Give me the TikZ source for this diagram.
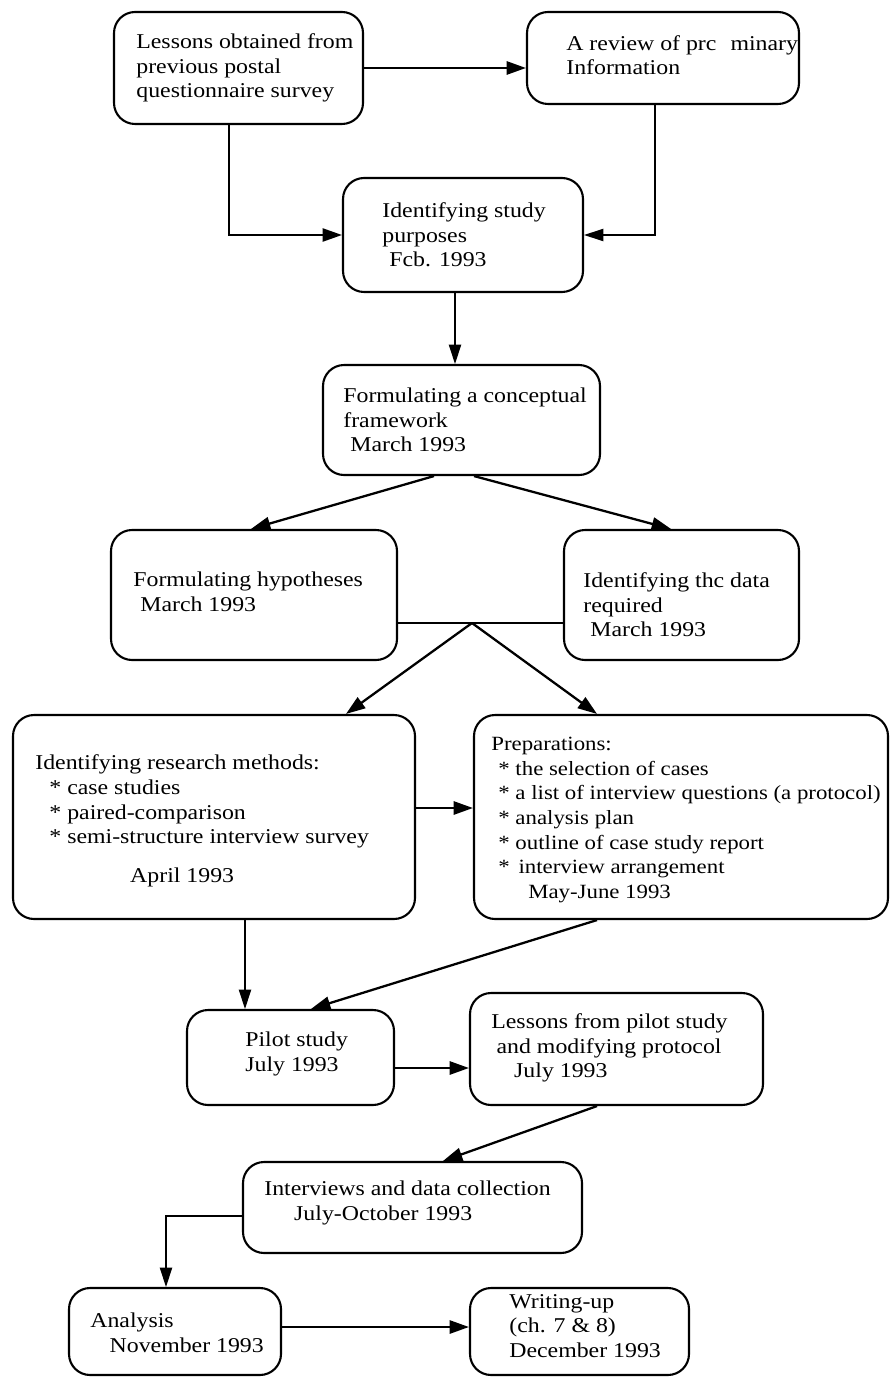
\documentclass[tikz,border=0pt]{standalone}
\usepackage{fontspec}
\setmainfont{Liberation Serif}[FakeStretch=1.13]
\usetikzlibrary{arrows.meta,fit}

\begin{document}
\begin{tikzpicture}[
                x=0.02cm, y=-0.02cm,
                roundbox/.style={
                    draw, rounded corners=12pt, line width=1.2pt, inner sep=0pt
                },
                boxtext/.style={
                    anchor=west, align=left, inner sep=0pt,
                    font=\fontsize{12}{14}\selectfont
                },
                thickarrow/.style={
                    line width=1.3pt, -{Triangle[length=11pt, width=7.5pt]}
                },
                thinarrow/.style={
                    line width=0.7pt, -{Triangle[length=11pt, width=7pt]}
                }
            ]
            \useasboundingbox (0, 0) rectangle (891, 1378);

            % boxes
            \node[roundbox, fit={(114, 12) (363, 124)}] (lessons) {};
            \node[roundbox, fit={(527, 12) (799, 104)}] (review) {};
            \node[roundbox, fit={(343, 178) (583, 292)}] (purposes) {};
            \node[roundbox, fit={(323, 365) (600, 475)}] (framework) {};
            \node[roundbox, fit={(111, 530) (397, 660)}] (hypotheses) {};
            \node[roundbox, fit={(564, 530) (799, 660)}] (data) {};
            \node[roundbox, fit={(13, 715) (415, 919)}] (methods) {};
            \node[roundbox, fit={(474, 715) (888, 919)}] (prep) {};
            \node[roundbox, fit={(187, 1010) (394, 1105)}] (pilot) {};
            \node[roundbox, fit={(470, 993) (763, 1105)}] (pilotlessons) {};
            \node[roundbox, fit={(243, 1162) (582, 1253)}] (interviews) {};
            \node[roundbox, fit={(69, 1288) (281, 1375)}] (analysis) {};
            \node[roundbox, fit={(470, 1288) (689, 1375)}] (writing) {};

            % texts
            \node[boxtext] (lessonsT) at (136, 68) {Lessons obtained from\\previous postal\\questionnaire survey};
            \node[boxtext] (reviewT) at (566, 55) {A review of prc\hspace{8pt}minary\\Information};
            \node[boxtext] (purposesT) at (382, 235) {Identifying study\\purposes\\\hspace{4pt}Fcb. 1993};
            \node[boxtext] (frameworkT) at (343, 420) {Formulating a conceptual\\framework\\\hspace{4pt}March 1993};
            \node[boxtext] (hypothesesT) at (133, 592) {Formulating hypotheses\\\hspace{4pt}March 1993};
            \node[boxtext] (dataT) at (583, 605) {Identifying thc data\\required\\\hspace{4pt}March 1993};
            \node[boxtext] (methodsT) at (35, 821) {Identifying research methods:\\
                \hspace{8pt}* case studies\\
                \hspace{8pt}* paired-comparison\\
                \hspace{8pt}* semi-structure interview survey\\[8pt]
                \hspace{54pt}April 1993};
            \node[boxtext, font=\fontsize{11.5}{14}\selectfont] (prepT) at (491, 820) {Preparations:\\
                \hspace{4pt}* the selection of cases\\
                \hspace{4pt}* a list of interview questions (a protocol)\\
                \hspace{4pt}* analysis plan\\
                \hspace{4pt}* outline of case study report\\
                \hspace{4pt}*\hspace{5pt}interview arrangement\\
                \hspace{21pt}May-June 1993};
            \node[boxtext] (pilotT) at (245, 1054) {Pilot study\\July 1993};
            \node[boxtext] (pilotlessonsT) at (491, 1048) {Lessons from pilot study\\\hspace{3pt}and modifying protocol\\\hspace{13pt}July 1993};
            \node[boxtext] (interviewsT) at (264, 1203) {Interviews and data collection\\\hspace{17pt}July-October 1993};
            \node[boxtext] (analysisT) at (90, 1333) {Analysis\\\hspace{11pt}November 1993};
            \node[boxtext] (writingT) at (509, 1326) {Writing-up\\(ch. 7 \& 8)\\December 1993};

            % connectors
            \coordinate (fork) at (472, 623);
            \draw[thickarrow] (lessons.east) -- (lessons.east -| review.west);
            \draw[line width=1pt, -{Triangle[length=11pt, width=7.5pt]}] ([xshift=-0.19cm]lessons.south) |- (purposes.west);
            \draw[thinarrow] ([xshift=-0.16cm]review.south) |- (purposes.east);
            \draw[thinarrow] ([xshift=-0.16cm]purposes.south) -- ([xshift=-0.16cm]purposes.south |- framework.north);
            \draw[thickarrow] ([xshift=-0.55cm]framework.south) -- ([xshift=-0.06cm]hypotheses.north);
            \draw[thickarrow] ([xshift=0.25cm]framework.south) -- ([xshift=-0.21cm]data.north);
            \draw[line width=0.7pt] (hypotheses.east |- fork) -- (data.west |- fork);
            \draw[thickarrow] (fork) -- ([xshift=2.64cm]methods.north);
            \draw[thickarrow] (fork) -- ([xshift=-1.68cm]prep.north);
            \draw[thickarrow] ([yshift=0.18cm]methods.east) -- ([yshift=0.18cm]methods.east -| prep.west);
            \draw[thinarrow] ([xshift=0.62cm]methods.south) -- ([xshift=0.62cm]methods.south |- pilot.north);
            \draw[thickarrow] ([xshift=-1.68cm]prep.south) -- ([xshift=0.41cm]pilot.north);
            \draw[thickarrow] ([yshift=-0.21cm]pilot.east) -- ([yshift=-0.21cm]pilot.east -| pilotlessons.west);
            \draw[thickarrow] ([xshift=-0.39cm]pilotlessons.south) -- ([xshift=0.61cm]interviews.north);
            \draw[thinarrow] ([yshift=-0.17cm]interviews.west) -| ([xshift=-0.18cm]analysis.north);
            \draw[thickarrow] ([yshift=0.09cm]analysis.east) -- ([yshift=0.09cm]analysis.east -| writing.west);
            \end{tikzpicture}
\end{document}
